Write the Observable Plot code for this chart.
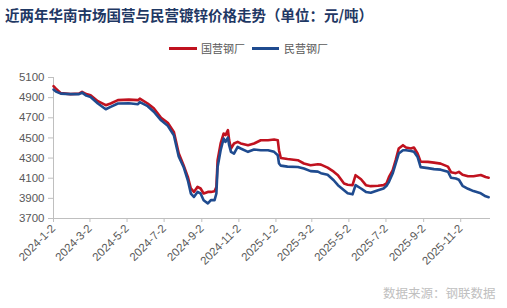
<!DOCTYPE html>
<html><head><meta charset="utf-8">
<script src="https://cdn.jsdelivr.net/npm/d3@7"></script>
<script src="https://cdn.jsdelivr.net/npm/@observablehq/plot@0.6"></script>
<style>
body{margin:0;width:507px;height:308px;position:relative;background:#fff;overflow:hidden;font-family:"Liberation Sans","Noto Sans CJK SC",sans-serif}
#title{position:absolute;left:5px;top:5px;line-height:20px;font-family:"Noto Sans CJK SC";font-weight:bold;font-size:14.5px;color:#1F3864;white-space:nowrap}
.lg{position:absolute;top:42px;height:12px;font-family:"Noto Sans CJK SC";font-size:11px;line-height:12px;color:#595959;white-space:nowrap}
.sw{position:absolute;height:2.5px;top:47px}
#chart{position:absolute;left:0;top:60px}
#caption{position:absolute;left:383px;top:285px;font-family:"Noto Sans CJK SC";font-size:12.5px;line-height:16px;color:#c0c0c0;white-space:nowrap}
#chart g[aria-label$="tick"]{stroke:#bfbfbf}
</style></head>
<body>
<div id="title">近两年华南市场国营与民营镀锌价格走势（单位：元/吨）</div>
<div class="sw" style="left:169px;width:28px;background:#C0121F"></div>
<div class="lg" style="left:201px">国营钢厂</div>
<div class="sw" style="left:252px;width:27px;background:#1F4B8F"></div>
<div class="lg" style="left:284px">民营钢厂</div>
<div id="chart"></div>
<div id="caption">数据来源：钢联数据</div>
<script>
const dates = ["2024-01-02","2024-01-06","2024-01-14","2024-01-30","2024-02-13","2024-02-18","2024-02-25","2024-03-03","2024-03-15","2024-03-28",
"2024-04-05","2024-04-17","2024-05-05","2024-05-20","2024-05-23","2024-06-05","2024-06-15","2024-06-27","2024-07-08","2024-07-18",
"2024-07-26","2024-08-03","2024-08-10","2024-08-15","2024-08-20","2024-08-26","2024-08-31","2024-09-05","2024-09-12","2024-09-17",
"2024-09-23","2024-09-26","2024-09-28","2024-10-03","2024-10-08","2024-10-11","2024-10-15","2024-10-17","2024-10-20","2024-10-25",
"2024-10-31","2024-11-05","2024-11-17","2024-11-27","2024-12-08","2024-12-20","2024-12-30","2025-01-05","2025-01-07","2025-01-10",
"2025-01-21","2025-02-07","2025-02-17","2025-02-28","2025-03-12","2025-03-17","2025-03-28","2025-04-07","2025-04-14","2025-04-24",
"2025-04-30","2025-05-08","2025-05-13","2025-05-22","2025-05-30","2025-06-07","2025-06-19","2025-06-28","2025-07-03","2025-07-07",
"2025-07-13","2025-07-18","2025-07-23","2025-07-30","2025-08-04","2025-08-12","2025-08-17","2025-08-23","2025-08-28","2025-09-09",
"2025-09-19","2025-09-30","2025-10-12","2025-10-17","2025-10-25","2025-10-30","2025-11-05","2025-11-14","2025-11-23","2025-12-05",
"2025-12-13","2025-12-18"];
const stateOwned = [5015,4990,4945,4935,4940,4957,4935,4924,4865,4825,
4842,4875,4880,4875,4890,4842,4795,4700,4650,4560,
4348,4229,4113,3998,3964,4014,3998,3948,3964,3964,
3970,4014,4279,4445,4544,4528,4577,4478,4395,4445,
4461,4445,4428,4445,4477,4477,4484,4477,4378,4300,
4290,4279,4246,4229,4239,4235,4205,4165,4130,4047,
4035,4031,4130,4090,4031,4021,4025,4031,4050,4113,
4179,4279,4395,4428,4405,4395,4405,4345,4265,4262,
4255,4245,4215,4160,4150,4163,4135,4120,4120,4132,
4112,4105];
const privateOwned = [4980,4960,4940,4935,4935,4950,4920,4907,4842,4785,
4808,4842,4845,4835,4855,4815,4760,4675,4620,4526,
4315,4212,4080,3948,3914,3964,3948,3882,3849,3882,
3882,3948,4212,4378,4494,4461,4504,4428,4362,4345,
4411,4395,4362,4385,4378,4378,4362,4328,4246,4225,
4215,4212,4196,4170,4165,4150,4135,4080,4031,3981,
3950,3940,4031,3998,3964,3955,3981,3998,4025,4064,
4146,4246,4345,4378,4378,4371,4362,4312,4210,4200,
4190,4185,4165,4105,4097,4085,4025,3995,3972,3950,
3920,3912];
const seriesNames = ["国营钢厂","民营钢厂"];
const seriesColors = ["#C0121F","#1F4B8F"];
const tickLabels = ["2024-1-2","2024-3-2","2024-5-2","2024-7-2","2024-9-2","2024-11-2","2025-1-2","2025-3-2","2025-5-2","2025-7-2","2025-9-2","2025-11-2"];
const yTicks = [3700,3900,4100,4300,4500,4700,4900,5100];

const parse = d3.utcParse("%Y-%m-%d");
const tickDates = tickLabels.map(s => { const [y,m,d] = s.split("-").map(Number); return new Date(Date.UTC(y,m-1,d)); });
const labelOf = new Map(tickDates.map((d,i)=>[+d, tickLabels[i]]));
const rows = [];
[stateOwned, privateOwned].forEach((vals, k) => vals.forEach((v,i) => rows.push({date: parse(dates[i]), value: v, series: seriesNames[k]})));
const x0 = parse("2024-01-02"), x1 = parse("2025-12-21");

const chart = Plot.plot({
  width: 507, height: 248,
  marginTop: 17, marginBottom: 90, marginLeft: 53, marginRight: 17,
  style: {fontFamily: "Liberation Sans, sans-serif", fontSize: "11px", color: "#595959", background: "transparent"},
  x: {type: "utc", domain: [x0, x1]},
  y: {domain: [3700, 5100]},
  color: {domain: seriesNames, range: seriesColors},
  marks: [
    Plot.ruleY([3700], {stroke: "#bfbfbf"}),
    Plot.ruleX([x0], {stroke: "#bfbfbf"}),
    Plot.axisY({ticks: yTicks, tickFormat: d => String(d), tickSize: 5, tickPadding: 4, label: null, fontSize: 11.5}),
    Plot.axisX({ticks: tickDates, tickFormat: d => labelOf.get(+d), tickSize: 4, tickRotate: -45, tickPadding: 4, label: null, fontSize: 11.5}),
    Plot.line(rows, {x: "date", y: "value", z: "series", stroke: "series", strokeWidth: 2.6, strokeLinejoin: "round"})
  ]
});
document.getElementById("chart").appendChild(chart);
</script>
</body></html>
